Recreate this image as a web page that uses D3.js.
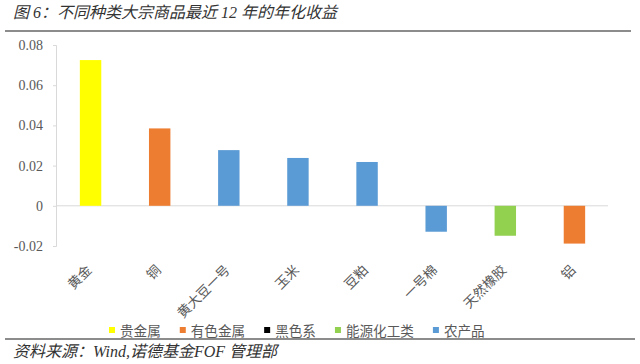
<!DOCTYPE html>
<html><head><meta charset="utf-8">
<script src="https://cdn.jsdelivr.net/npm/d3@7"></script>
<style>
html,body{margin:0;padding:0;background:#fff;}
svg{display:block;}
</style></head>
<body>
<svg id="c" width="640" height="364"></svg>
<script>
const titleText = "图 6：不同种类大宗商品最近 12 年的年化收益";
const sourceText = "资料来源：Wind,诺德基金FOF 管理部";
const categories = ["黄金","铜","黄大豆一号","玉米","豆粕","一号棉","天然橡胶","铝"];
const values = [0.0725, 0.0385, 0.0277, 0.0238, 0.0218, -0.0129, -0.0149, -0.0188];
const groups = ["贵金属","有色金属","农产品","农产品","农产品","农产品","能源化工类","有色金属"];
const legendNames = ["贵金属","有色金属","黑色系","能源化工类","农产品"];
const legendColors = ["#FFFF00","#ED7D31","#000000","#92D050","#5B9BD5"];
const yTicks = [-0.02, 0, 0.02, 0.04, 0.06, 0.08];
const yTickLabels = ["-0.02","0","0.02","0.04","0.06","0.08"];

const svg = d3.select("#c");
const CJK = "'Noto Sans CJK SC','Noto Sans',sans-serif";
const SERIF = "'Liberation Serif','Noto Sans CJK SC',serif";

const color = d3.scaleOrdinal().domain(legendNames).range(legendColors);

// Title
svg.append("text").attr("x", 13).attr("y", 18)
  .attr("font-family", SERIF).attr("font-style", "italic")
  .attr("font-size", 16).attr("fill", "#333").text(titleText);
// top rule
svg.append("line").attr("x1", 5).attr("x2", 631).attr("y1", 31).attr("y2", 31)
  .attr("stroke", "#8c8c8c").attr("stroke-width", 2);

const x = d3.scaleBand().domain(categories).range([56, 609])
  .paddingInner(0.69).paddingOuter(0.345);
const y = d3.scaleLinear().domain([-0.02, 0.08]).range([246, 45]);

// y axis
const yAxis = svg.append("g").attr("transform", "translate(56,0)")
  .call(d3.axisLeft(y).tickValues(yTicks).tickSize(3).tickPadding(10)
    .tickFormat((d, i) => yTickLabels[i]));
yAxis.select(".domain").attr("stroke", "#d9d9d9");
yAxis.selectAll(".tick line").attr("stroke", "#d9d9d9");
yAxis.selectAll(".tick text").attr("font-family", SERIF).attr("font-size", 14)
  .attr("fill", "#595959");

// zero line
svg.append("line").attr("x1", 56).attr("x2", 608).attr("y1", y(0)).attr("y2", y(0))
  .attr("stroke", "#d9d9d9").attr("stroke-width", 1);

// bars
svg.append("g").selectAll("rect").data(categories).join("rect")
  .attr("x", d => x(d))
  .attr("width", x.bandwidth())
  .attr("y", (d, i) => y(Math.max(0, values[i])))
  .attr("height", (d, i) => Math.abs(y(values[i]) - y(0)))
  .attr("fill", (d, i) => color(groups[i]));

// x labels
svg.append("g").selectAll("text").data(categories).join("text")
  .attr("transform", d => `translate(${x(d) + x.bandwidth() / 2 + 2},271) rotate(-45)`)
  .attr("text-anchor", "end")
  .attr("font-family", CJK).attr("font-size", 13.5).attr("fill", "#595959")
  .text(d => d);

// legend
const lg = svg.append("g");
let lx = 109;
const ly = 330;
legendNames.forEach((n, i) => {
  lg.append("rect").attr("x", lx).attr("y", ly - 3).attr("width", 6).attr("height", 6)
    .attr("fill", legendColors[i]);
  const t = lg.append("text").attr("x", lx + 11).attr("y", ly)
    .attr("dominant-baseline", "central")
    .attr("font-family", CJK).attr("font-size", 13.6).attr("fill", "#595959").text(n);
  lx += 11 + t.node().getComputedTextLength() + 19;
});

// bottom rule
svg.append("line").attr("x1", 5).attr("x2", 635).attr("y1", 339).attr("y2", 339)
  .attr("stroke", "#8c8c8c").attr("stroke-width", 2);

// source
svg.append("text").attr("x", 13).attr("y", 357)
  .attr("font-family", SERIF).attr("font-style", "italic")
  .attr("font-size", 16).attr("fill", "#333").text(sourceText);
</script>
</body></html>
